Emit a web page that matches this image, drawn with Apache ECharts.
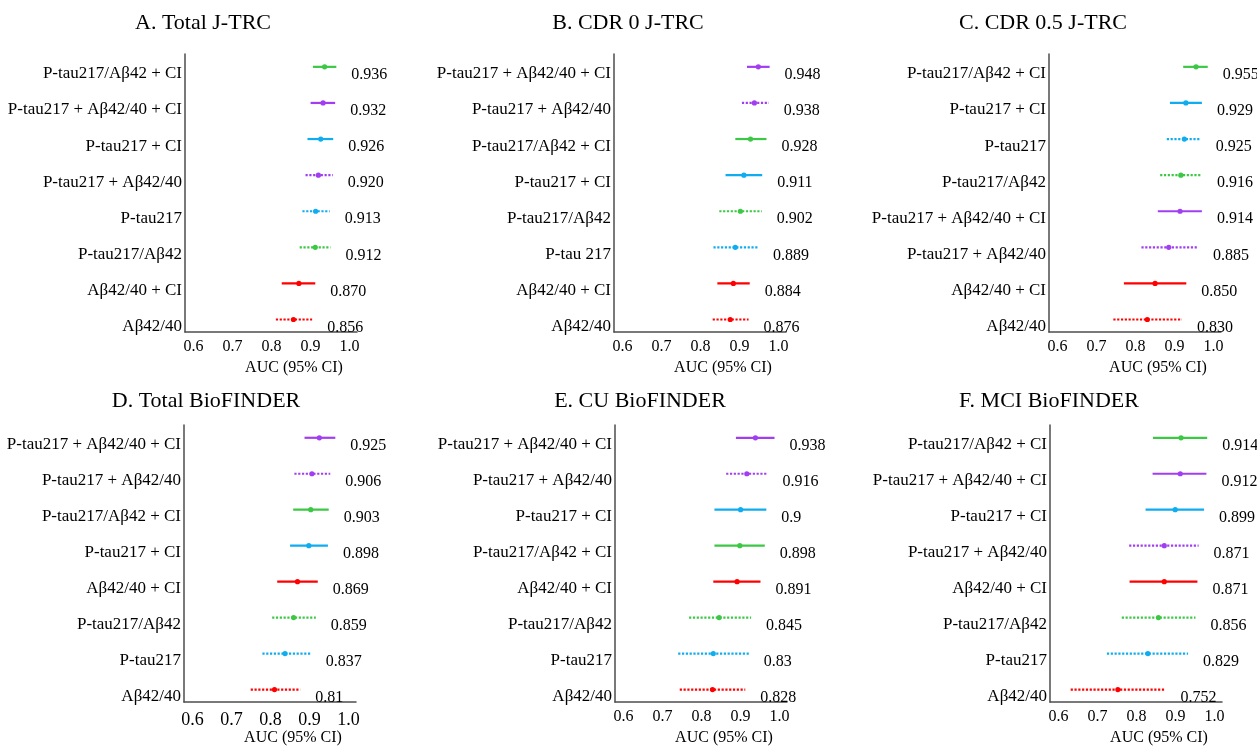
<!DOCTYPE html>
<html>
<head>
<meta charset="utf-8">
<script src="https://cdn.jsdelivr.net/npm/echarts@6/dist/echarts.min.js"></script>
<style>
  html, body { margin: 0; padding: 0; background: #fff; }
  #chart { width: 1257px; height: 747px; }
</style>
</head>
<body>
<div id="chart"></div>
<script>
// panel titles
const titles = ['A. Total J-TRC', 'B. CDR 0 J-TRC', 'C. CDR 0.5 J-TRC',
  'D. Total BioFINDER', 'E. CU BioFINDER', 'F. MCI BioFINDER'];

// x ticks
const xTicks = [0.6, 0.7, 0.8, 0.9, 1.0];

// rows listed top to bottom
const labelsA = ['P-tau217/Aβ42 + CI', 'P-tau217 + Aβ42/40 + CI', 'P-tau217 + CI', 'P-tau217 + Aβ42/40', 'P-tau217', 'P-tau217/Aβ42', 'Aβ42/40 + CI', 'Aβ42/40'];
const aucA = ['0.936', '0.932', '0.926', '0.920', '0.913', '0.912', '0.870', '0.856'];
const loA = [0.906, 0.900, 0.892, 0.887, 0.879, 0.872, 0.826, 0.811];
const hiA = [0.966, 0.963, 0.958, 0.957, 0.949, 0.951, 0.912, 0.904];

const labelsB = ['P-tau217 + Aβ42/40 + CI', 'P-tau217 + Aβ42/40', 'P-tau217/Aβ42 + CI', 'P-tau217 + CI', 'P-tau217/Aβ42', 'P-tau 217', 'Aβ42/40 + CI', 'Aβ42/40'];
const aucB = ['0.948', '0.938', '0.928', '0.911', '0.902', '0.889', '0.884', '0.876'];
const loB = [0.919, 0.906, 0.889, 0.864, 0.848, 0.833, 0.843, 0.831];
const hiB = [0.977, 0.975, 0.969, 0.958, 0.957, 0.947, 0.926, 0.923];

const labelsC = ['P-tau217/Aβ42 + CI', 'P-tau217 + CI', 'P-tau217', 'P-tau217/Aβ42', 'P-tau217 + Aβ42/40 + CI', 'P-tau217 + Aβ42/40', 'Aβ42/40 + CI', 'Aβ42/40'];
const aucC = ['0.955', '0.929', '0.925', '0.916', '0.914', '0.885', '0.850', '0.830'];
const loC = [0.922, 0.888, 0.880, 0.863, 0.857, 0.815, 0.770, 0.743];
const hiC = [0.985, 0.970, 0.967, 0.970, 0.970, 0.960, 0.930, 0.919];

const labelsD = ['P-tau217 + Aβ42/40 + CI', 'P-tau217 + Aβ42/40', 'P-tau217/Aβ42 + CI', 'P-tau217 + CI', 'Aβ42/40 + CI', 'P-tau217/Aβ42', 'P-tau217', 'Aβ42/40'];
const aucD = ['0.925', '0.906', '0.903', '0.898', '0.869', '0.859', '0.837', '0.81'];
const loD = [0.887, 0.861, 0.858, 0.850, 0.817, 0.804, 0.779, 0.749];
const hiD = [0.966, 0.953, 0.949, 0.947, 0.921, 0.916, 0.903, 0.876];

const labelsE = ['P-tau217 + Aβ42/40 + CI', 'P-tau217 + Aβ42/40', 'P-tau217 + CI', 'P-tau217/Aβ42 + CI', 'Aβ42/40 + CI', 'P-tau217/Aβ42', 'P-tau217', 'Aβ42/40'];
const aucE = ['0.938', '0.916', '0.9', '0.898', '0.891', '0.845', '0.83', '0.828'];
const loE = [0.888, 0.863, 0.833, 0.833, 0.830, 0.768, 0.740, 0.744];
const hiE = [0.987, 0.969, 0.966, 0.962, 0.951, 0.927, 0.921, 0.912];

const labelsF = ['P-tau217/Aβ42 + CI', 'P-tau217 + Aβ42/40 + CI', 'P-tau217 + CI', 'P-tau217 + Aβ42/40', 'Aβ42/40 + CI', 'P-tau217/Aβ42', 'P-tau217', 'Aβ42/40'];
const aucF = ['0.914', '0.912', '0.899', '0.871', '0.871', '0.856', '0.829', '0.752'];
const loF = [0.842, 0.841, 0.823, 0.781, 0.782, 0.762, 0.724, 0.631];
const hiF = [0.981, 0.979, 0.973, 0.959, 0.956, 0.951, 0.932, 0.874];

const panels = [
  { labels: labelsA, auc: aucA, lo: loA, hi: hiA },
  { labels: labelsB, auc: aucB, lo: loB, hi: hiB },
  { labels: labelsC, auc: aucC, lo: loC, hi: hiC },
  { labels: labelsD, auc: aucD, lo: loD, hi: hiD },
  { labels: labelsE, auc: aucE, lo: loE, hi: hiE },
  { labels: labelsF, auc: aucF, lo: loF, hi: hiF },
];

// marker colours
const markerColor = {
  'Aβ42/40': '#ff0000',
  'P-tau217': '#0fadef',
  'P-tau217/Aβ42': '#3cc845',
  'P-tau217 + Aβ42/40': '#a23ef2',
};

const FONT = '"Liberation Serif", "Times New Roman", serif';

// layout per panel
const gridPos = [
  { left: 185, top: 54 }, { left: 614, top: 54 }, { left: 1049, top: 54 },
  { left: 184, top: 425 }, { left: 615, top: 425 }, { left: 1050, top: 425 },
];
const titlePos = [
  { x: 203, y: 12 }, { x: 628, y: 12 }, { x: 1043, y: 12 },
  { x: 206, y: 390 }, { x: 640, y: 390 }, { x: 1049, y: 390 },
];

const chart = echarts.init(document.getElementById('chart'));

const option = {
  backgroundColor: '#fff',
  animation: false,
  title: titles.map((t, i) => ({
    text: t,
    left: titlePos[i].x,
    top: titlePos[i].y,
    textAlign: 'center',
    padding: 0,
    textStyle: { fontFamily: FONT, fontSize: 22, fontWeight: 'normal', color: '#000' },
  })),
  grid: gridPos.map((g) => ({ left: g.left, top: g.top, width: 172, height: 278, containLabel: false })),
  xAxis: panels.map((p, i) => ({
    type: 'value',
    gridIndex: i,
    min: 0.578,
    max: 1.019,
    name: 'AUC (95% CI)',
    nameLocation: 'middle',
    nameGap: 28,
    nameTextStyle: { fontFamily: FONT, fontSize: 16, color: '#000', padding: [0, 0, 0, 46] },
    axisLine: { show: true, onZero: false, lineStyle: { color: '#4d4d4d', width: 1.5 } },
    axisTick: { show: false },
    splitLine: { show: false },
    axisLabel: {
      customValues: xTicks,
      formatter: (v) => v.toFixed(1),
      margin: i === 3 ? 9 : 7,
      fontFamily: FONT,
      fontSize: i === 3 ? 18 : 16,
      color: '#000',
    },
  })),
  yAxis: panels.map((p, i) => ({
    type: 'value',
    gridIndex: i,
    min: 0.848,
    max: 8.55,
    axisLine: { show: true, onZero: false, lineStyle: { color: '#4d4d4d', width: 1.5 } },
    axisTick: { show: false },
    splitLine: { show: false },
    axisLabel: {
      customValues: p.labels.map((_, k) => p.labels.length - k),
      formatter: (v) => p.labels[p.labels.length - Math.round(v)],
      margin: 3,
      fontFamily: FONT,
      fontSize: 17,
      color: '#000',
    },
  })),
  series: panels.map((p, i) => ({
    type: 'custom',
    xAxisIndex: i,
    yAxisIndex: i,
    clip: false,
    data: p.labels.map((name, k) => [p.lo[k], p.hi[k], Number(p.auc[k]), p.labels.length - k]),
    renderItem: (params, api) => {
      const k = params.dataIndex;
      const name = p.labels[k];
      const withCI = / \+ CI$/.test(name);
      const base = name.replace(/ \+ CI$/, '').replace('P-tau 217', 'P-tau217');
      const color = markerColor[base];
      const a = api.coord([api.value(0), api.value(3)]);
      const b = api.coord([api.value(1), api.value(3)]);
      const c = api.coord([api.value(2), api.value(3)]);
      const y = a[1] - 7;
      return {
        type: 'group',
        children: [
          {
            type: 'line',
            shape: { x1: a[0], y1: y, x2: b[0], y2: y },
            style: { stroke: color, lineWidth: 2.2, lineDash: withCI ? null : [2.2, 1.6] },
          },
          {
            type: 'circle',
            shape: { cx: c[0], cy: y, r: 2.6 },
            style: { fill: color },
          },
          {
            type: 'text',
            style: {
              text: p.auc[k],
              x: b[0] + 15,
              y: a[1] + 1,
              verticalAlign: 'middle',
              align: 'left',
              font: '16px ' + FONT,
              fill: '#000',
            },
          },
        ],
      };
    },
  })),
};

chart.setOption(option);
window.addEventListener('resize', () => chart.resize());
</script>
</body>
</html>
